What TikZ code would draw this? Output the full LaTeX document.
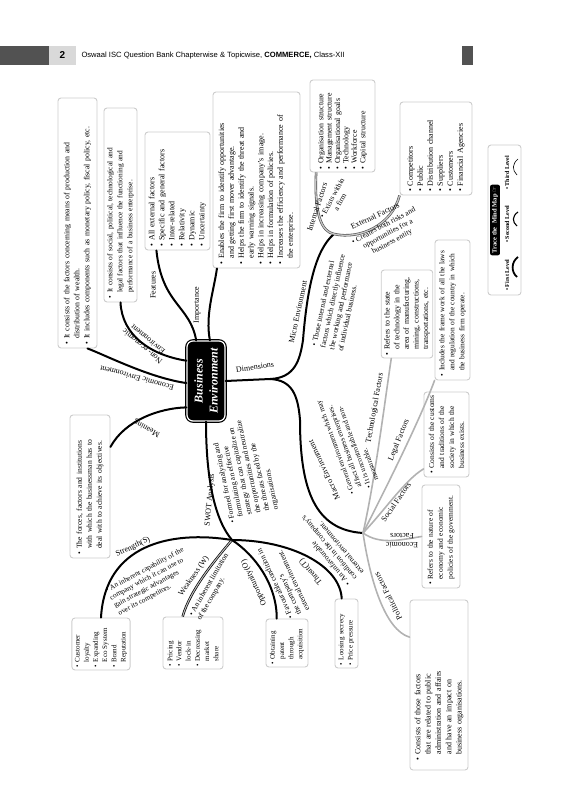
\documentclass[tikz,border=0pt]{standalone}
\usepackage{fontspec}
\setmainfont{Liberation Serif}
\newfontfamily\headfont{Liberation Sans}
\newfontfamily\symfont{DejaVu Sans}
\usetikzlibrary{calc}

\newcommand{\bul}{\textbullet~}
\newcommand{\ind}{\phantom{\textbullet}~}
\newcommand{\jl}[1]{\makebox[\linewidth][s]{#1}}

\tikzset{
  branch/.style={line width=2pt, line cap=round},
  subbranch/.style={line width=1.6pt, draw=gray!60, line cap=round},
  infobox/.style={draw=gray!40, line width=0.9pt, rounded corners=3pt, fill=white,
    rotate=90, align=left, inner sep=3pt, font=\fontsize{8}{10}\selectfont},
  lbl/.style={font=\fontsize{8}{9}\selectfont, inner sep=0.5pt},
  desc/.style={font=\fontsize{7.5}{9}\selectfont, align=left, inner sep=0.5pt},
}

\begin{document}
\begin{tikzpicture}[x=1pt, y=-1pt]
\useasboundingbox (0,0) rectangle (583,800);

% --- Header strip ---
\fill[black!68] (0,46) rectangle (49,65);
\fill[black!15] (49,46) rectangle (76,65);
\node[font=\headfont\bfseries\fontsize{10}{10}\selectfont] (pgno) at (62.5,55.5) {2};
\node[font=\headfont\fontsize{7.6}{9}\selectfont, anchor=west] (head) at (78,55.5)
  {Oswaal ISC Question Bank Chapterwise \& Topicwise, \textbf{COMMERCE,} Class-XII};
\fill[black!68] (462,46) rectangle (473,65);

% --- Central topic ---
\node[rotate=90, fill=black, draw=black, double=white, double distance=1.2pt,
  line width=1.2pt, rounded corners=6pt, minimum width=80pt, minimum height=38pt,
  text=white, align=center, font=\bfseries\itshape\fontsize{12}{15}\selectfont]
  (ce) at (206,381) {Business\\Environment};

% --- Boxes ---
\node[infobox, minimum width=250pt, minimum height=39pt, text width=242pt,
  font=\fontsize{7.8}{10}\selectfont] (bA) at (77.5,223)
  {\bul It consists of the factors concerning means of production and\\
   \ind distribution of wealth.\\
   \bul It includes components such as monetary policy, fiscal policy, etc.};
\node[infobox, minimum width=194pt, minimum height=33pt, text width=186pt,
  font=\fontsize{7.4}{10}\selectfont] (bB) at (120.5,205)
  {\bul It consists of social, political, technological and\\
   \ind legal factors that influence the functioning and\\
   \ind performance of a business enterprise.};
\node[infobox, minimum width=118pt, minimum height=65pt, text width=110pt] (bC) at (177.5,191)
  {\bul All external factors\\ \bul Specific and general factors\\ \bul Inter-related\\
   \bul Relativity\\ \bul Dynamic\\ \bul Uncertainty};
\node[infobox, minimum width=176pt, minimum height=87pt, text width=168pt,
  font=\fontsize{8}{9.8}\selectfont] (bD) at (256.5,180)
  {\bul Enables the firm to identify opportunities\\
   \ind and getting first mover advantage.\\
   \bul Helps the firm to identify the threat and\\
   \ind early warning signals.\\
   \bul Helps in increasing company's image.\\
   \bul Helps in formulation of policies.\\
   \bul Increases the efficiency and performance of\\
   \ind the enterprise.};
\node[infobox, minimum width=92pt, minimum height=65pt, text width=86pt,
  font=\fontsize{7.8}{8.4}\selectfont] (bE) at (342.5,126)
  {\bul Organisation structure\\ \bul Management structure\\ \bul Organisational goals\\
   \bul Technology\\ \bul Workforce\\ \bul Capital structure};
\node[infobox, minimum width=93pt, minimum height=72pt, text width=86pt] (bF) at (436,148.5)
  {\bul Competitors\\ \bul Public\\ \bul Distribution channel\\
   \bul Suppliers\\ \bul Customers\\ \bul Financial Agencies};
\node[infobox, minimum width=140pt, minimum height=35pt, text width=132pt,
  font=\fontsize{7.4}{10}\selectfont] (bG) at (452.5,310)
  {\bul Includes the frame work of all the laws\\
   \ind and regulation of the country in which\\
   \ind the business firm operate.};
\node[infobox, minimum width=88pt, minimum height=50pt, text width=82pt,
  font=\fontsize{7.8}{9.6}\selectfont] (bH) at (407,314)
  {\bul Refers to the state\\ \ind of technology in the\\ \ind area of manufacturing,\\
   \ind mining, constructions,\\ \ind transportations, etc.};
\node[infobox, minimum width=85pt, minimum height=45pt, text width=78pt,
  font=\fontsize{7.5}{10}\selectfont] (bI) at (446.5,434.5)
  {\jl{\bul Consists of the customs}\\ \jl{\ind and traditions of the}\\
   \jl{\ind society in which the}\\ \ind business exists.};
\node[infobox, minimum width=103pt, minimum height=38pt, text width=96pt,
  font=\fontsize{7.5}{10}\selectfont] (bJ) at (441,536.5)
  {\jl{\bul Refers to the nature of}\\ \jl{\ind economy and economic}\\
   \ind policies of the government.};
\node[infobox, minimum width=170pt, minimum height=58pt, text width=150pt,
  font=\fontsize{8}{10.3}\selectfont] (bK) at (439,685)
  {\jl{\bul Consists of those factors}\\ \jl{\ind that are related to public}\\
   \jl{\ind administration and affairs}\\ \jl{\ind and have an impact on}\\
   \ind business organisations.};
\node[infobox, minimum width=143pt, minimum height=40pt, text width=135pt,
  font=\fontsize{7.6}{10}\selectfont] (bL) at (90,486.5)
  {\bul The forces, factors and institutions\\
   \ind with which the businessman has to\\
   \ind deal with to achieve its objectives.};
\node[infobox, minimum width=52pt, minimum height=58pt, text width=46pt,
  font=\fontsize{7}{9.2}\selectfont] (bS) at (101,644)
  {\bul Customer\\ \ind loyalty\\ \bul Expanding\\ \ind Eco System\\ \bul Brand\\ \ind Reputation};
\node[infobox, minimum width=52pt, minimum height=60pt, text width=46pt,
  font=\fontsize{7}{9.2}\selectfont] (bW) at (193,643)
  {\bul Pricing\\ \bul Vendor\\ \ind lock-in\\ \bul Decreasing\\ \ind market\\ \ind share};
\node[infobox, minimum width=48pt, minimum height=42pt, text width=42pt,
  font=\fontsize{7}{9.2}\selectfont] (bO) at (287,643)
  {\bul Obtaining\\ \ind patent\\ \ind through\\ \ind acquisition};
\node[infobox, minimum width=69pt, minimum height=23pt, text width=63pt,
  font=\fontsize{7}{9.2}\selectfont] (bT) at (346.5,633.5)
  {\bul Loosing secrecy\\ \bul Price pressure};

% --- Trace the mind map key ---
\node[infobox, minimum width=150pt, minimum height=33pt] (trace) at (504.5,220) {};
\node[fill=black, rounded corners=2pt, rotate=90, text=white, inner sep=2pt,
  font=\bfseries\fontsize{6.5}{7}\selectfont] (tracelbl) at (495,220)
  {Trace the\ \ Mind Map {\symfont ☞}};
\node[rotate=90, anchor=west, inner sep=0pt, font=\bfseries\fontsize{6}{7}\selectfont] (lv1) at (507,291) {\textbullet\ First Level};
\node[rotate=90, anchor=west, inner sep=0pt, font=\bfseries\fontsize{6}{7}\selectfont] (lv2) at (507,243) {\textbullet\ Second Level};
\node[rotate=90, anchor=west, inner sep=0pt, font=\bfseries\fontsize{6}{7}\selectfont] (lv3) at (507,190) {\textbullet\ Third Level};
\draw[line width=1.8pt] (517,277) .. controls (511,272) and (511,262) .. (518,257);
\draw[line width=1.1pt] (517,226) .. controls (512,222) and (512,216) .. (518,212);
\draw[line width=0.6pt] (517,175) .. controls (512,170) and (512,164) .. (518,159);

% --- Junctions ---
\coordinate (dim) at (270,379);
\coordinate (intext) at (334,234);
\coordinate (macj) at (363,533);
\coordinate (swot) at (232,540);

% --- First level branches ---
\draw[branch] ($(ce.north)!0.05!(ce.north west)$) .. controls (150,378) and (105,355) .. ($(bA.west)!0.5!(bA.south west)$);
\draw[branch] ($(ce.north)!0.5!(ce.north east)$) .. controls (150,355) and (122,335) .. (bB.west);
\draw[branch] ($(ce.north east)!0.25!(ce.south east)$) .. controls (190,305) and (162,305) .. ($(bC.north west)!0.18!(bC.south west)$);
\draw[branch] ($(ce.north east)!0.6!(ce.south east)$) .. controls (205,315) and (214,290) .. ($(bD.north west)!0.05!(bD.south west)$);
\draw[branch] ($(ce.north)!0.65!(ce.north west)$) .. controls (160,408) and (125,420) .. ($(bL.south)!0.55!(bL.south east)$);
\draw[branch] (ce.south) -- (dim);
\draw[branch] (ce.west) .. controls (206,480) and (215,520) .. (swot);

% --- Dimensions ---
\draw[branch] (dim) .. controls (295,378) and (300,360) .. (303,340)
  .. controls (307,290) and (315,250) .. (intext);
\draw[branch] (dim) .. controls (292,380) and (298,395) .. (300,420)
  .. controls (300,490) and (315,530) .. (macj);
\draw[line width=0.6pt, draw=black!70, double=gray!45, double distance=1.3pt]
  ($(bE.north west)!0.1!(bE.south west)$) .. controls (314,215) and (322,232) .. (intext)
  .. controls (360,240) and (392,225) .. (bF.north west);

% --- Macro factors ---
\draw[subbranch] (macj) .. controls (375,480) and (385,400) .. ($(bH.north west)!0.2!(bH.south west)$);
\draw[subbranch] (macj) .. controls (385,490) and (420,420) .. (bG.north west);
\draw[subbranch] (macj) .. controls (385,510) and (405,480) .. ($(bI.north west)!0.1!(bI.north east)$);
\draw[subbranch] (macj) .. controls (380,545) and (400,540) .. (bJ.north);
\draw[subbranch] (macj) .. controls (370,580) and (385,630) .. ($(bK.north)!0.56!(bK.north east)$);

% --- SWOT ---
\draw[branch] (swot) .. controls (170,530) and (105,545) .. (bS.east);
\draw[line width=0.7pt, double=gray!50, double distance=1pt] (swot) .. controls (215,560) and (190,590) .. ($(bW.north east)!0.33!(bW.south east)$);
\draw[branch] (swot) .. controls (255,555) and (277,585) .. ($(bO.north east)!0.26!(bO.south east)$);
\draw[branch] (swot) .. controls (290,540) and (340,565) .. ($(bT.north east)!0.3!(bT.south east)$);

% --- Branch labels ---
\node[lbl, rotate=165] (tEcon) at (137,378) {Economic Environment};
\node[lbl, rotate=140, align=center] (tNon) at (145,343) {Non- economic\\Environment};
\node[lbl, rotate=90] (tFeat) at (153,285) {Features};
\node[lbl, rotate=90] (tImp) at (197,305) {Importance};
\node[lbl, rotate=152] (tMean) at (147,428) {Meaning};
\node[lbl, rotate=8] (tDim) at (255,367) {Dimensions};
\node[lbl, rotate=78] (tMicro) at (298,312) {Micro Environment};
\node[lbl, rotate=115] (tMacro) at (324,470) {Macro Environment};
\node[lbl, rotate=72] (tInt) at (317,207) {Internal Factors};
\node[lbl, rotate=25] (tExt) at (375,216) {External Factors};
\node[lbl, rotate=80] (tTech) at (375,408) {Technological Factors};
\node[lbl, rotate=68] (tLegal) at (399,440) {Legal Factors};
\node[lbl, rotate=55] (tSoc) at (396,502) {Social Factors};
\node[lbl, rotate=180, align=center] (tEco) at (402,541) {Economic\\Factors};
\node[lbl, rotate=117] (tPol) at (388,596) {Political Factors};
\node[lbl, rotate=85] (tSwot) at (210,500) {SWOT Analysis};
\node[lbl, rotate=25] (tStr) at (133,547) {Strength(S)};
\node[lbl, rotate=55] (tWeak) at (194,576) {Weakness (W)};
\node[lbl, rotate=115] (tOpp) at (254,583) {Opportunity(O)};
\node[lbl, rotate=130] (tThr) at (311,572) {Threat(T)};

% --- Branch notes ---
\node[desc, rotate=78] (dMicro) at (337,302)
  {\bul Those internal and external\\ factors which directly influence\\
   the working and performance\\ of individual business.};
\node[desc, rotate=110, font=\fontsize{7.2}{9}\selectfont] (dMacro) at (348,443)
  {\bul General environment which may\\ \ind affect all business enterprises.\\
   \bul It is uncontrollable and non-\\ \ind measurable.};
\node[desc, rotate=62, align=center] (dInt) at (336,200) {\bul Exists within\\ a firm};
\node[desc, rotate=28, align=center] (dExt) at (388,234)
  {\bul Creates both risks and\\ opportunities for a\\ business entity};
\node[desc, rotate=102] (dSwot) at (245,470)
  {\bul Formed for analysing and\\ \ind formulating an effective\\
   \ind strategy that can capitalize on\\ \ind the opportunities and neutralize\\
   \ind the threats faced by the\\ \ind organisations.};
\node[desc, rotate=28, font=\fontsize{7.2}{8.8}\selectfont] (dStr) at (151,582)
  {\bul An inherent capability of the\\ company which it can use to\\
   gain strategic advantages\\ over its competitors.};
\node[desc, rotate=60] (dWeak) at (213,587) {\bul An inherent limitation\\ of the company.};
\node[desc, rotate=115] (dOpp) at (283,580)
  {\bul Favourable condition in\\ the company's\\ external environment.};
\node[desc, rotate=130] (dThr) at (329,548)
  {\bul An unfavourable\\ condition in the company's\\ external environment.};

\end{tikzpicture}
\end{document}
